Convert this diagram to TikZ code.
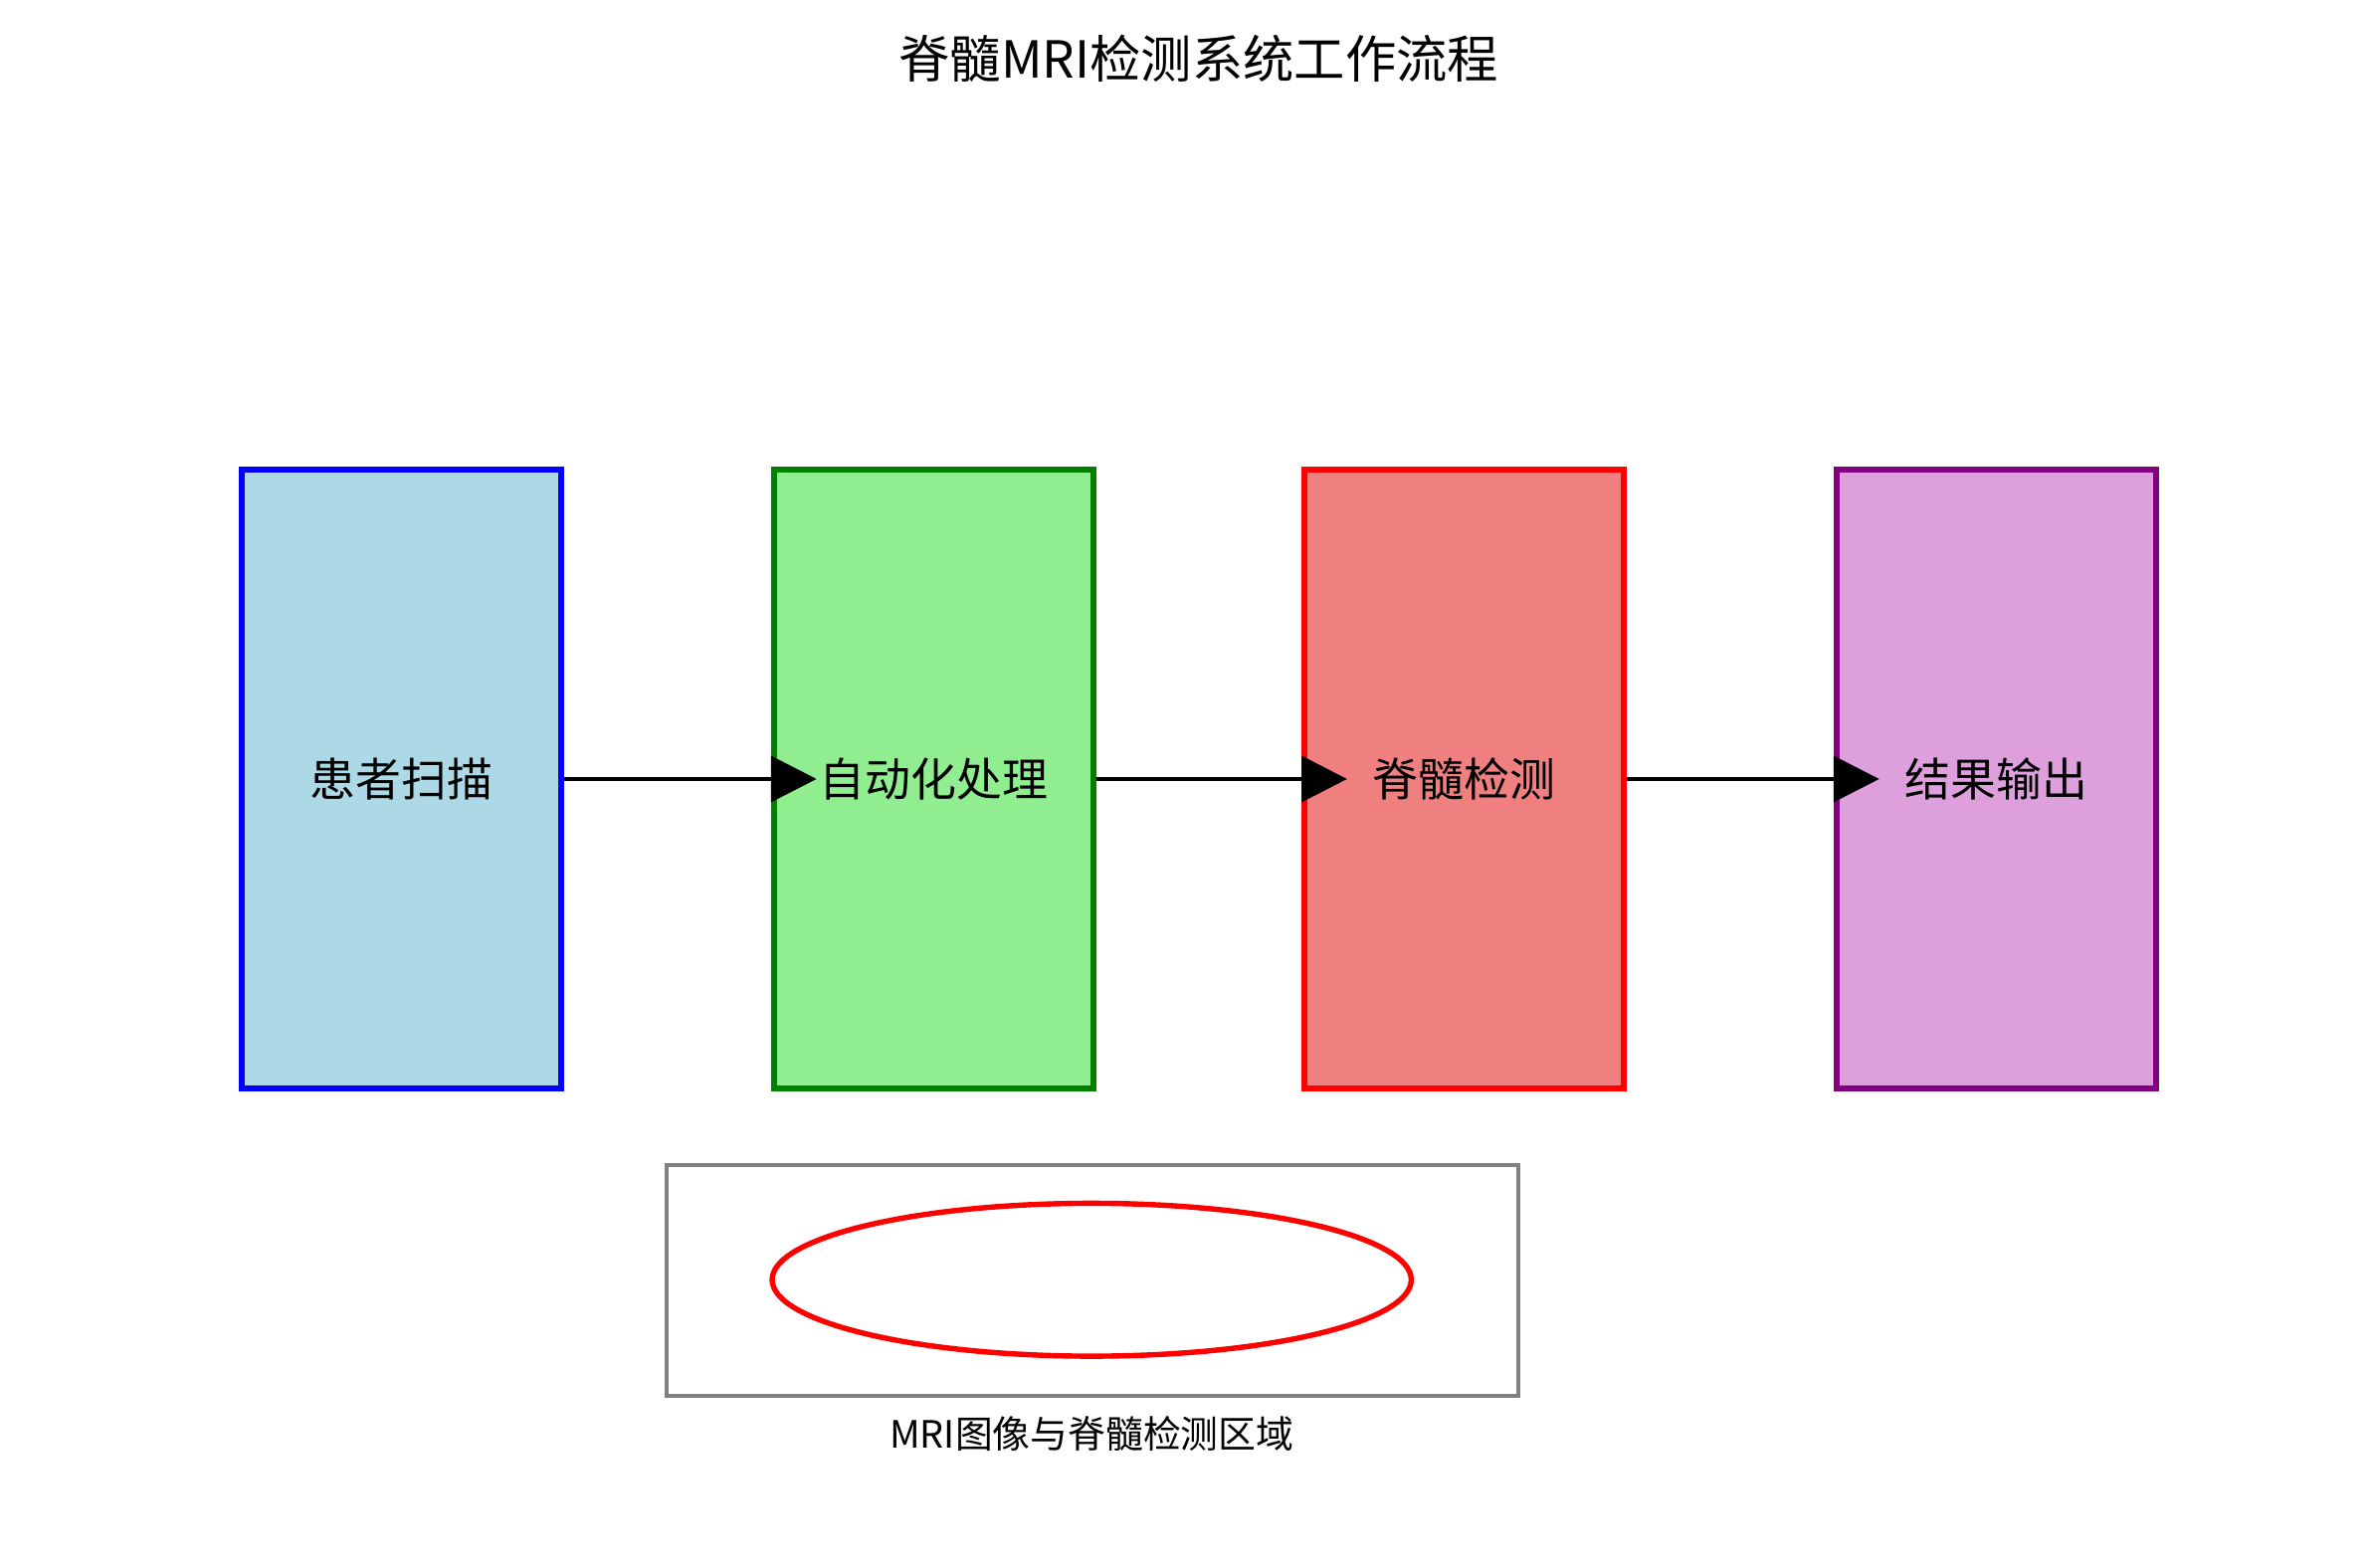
\documentclass[tikz,border=0pt]{standalone}
\usepackage{fontspec}
\setmainfont{Noto Sans CJK SC}
\usetikzlibrary{arrows.meta}
\definecolor{lblue}{RGB}{173,216,230}
\definecolor{lgreen}{RGB}{144,238,144}
\definecolor{lcoral}{RGB}{240,128,128}
\definecolor{lplum}{RGB}{221,160,221}
\definecolor{dgreen}{RGB}{0,128,0}
\definecolor{dpurple}{RGB}{128,0,128}
\begin{document}
\begin{tikzpicture}[x=0.02cm,y=-0.02cm,
  stage/.style={minimum width=209*0.02cm,minimum height=405*0.02cm,line width=2.2pt,inner sep=0pt,font=\fontsize{17}{20}\selectfont},
  flow/.style={line width=1.5pt,-{Triangle[length=17pt,width=17pt]}}]
\useasboundingbox (0,0) rectangle (1552,1025);
\node (title) at (784,38) {\fontsize{19}{22}\selectfont 脊髓MRI检测系统工作流程};
\node[stage,draw=blue,fill=lblue] (s1) at (262.5,509.5) {患者扫描};
\node[stage,draw=dgreen,fill=lgreen] (s2) at (610.5,509.5) {自动化处理};
\node[stage,draw=red,fill=lcoral] (s3) at (957.5,509.5) {脊髓检测};
\node[stage,draw=dpurple,fill=lplum] (s4) at (1305.5,509.5) {结果输出};
\draw[flow] (s1.east) -- ([xshift=30*0.02cm]s2.west);
\draw[flow] (s2.east) -- ([xshift=30*0.02cm]s3.west);
\draw[flow] (s3.east) -- ([xshift=30*0.02cm]s4.west);
\node[draw=gray,line width=1.2pt,minimum width=557*0.02cm,minimum height=151*0.02cm,inner sep=0pt] (img) at (714.5,837.5) {};
\draw[red,line width=2pt] (714,837) ellipse [x radius=209,y radius=50];
\node (cap) at (714,938) {\fontsize{14}{17}\selectfont MRI图像与脊髓检测区域};
\end{tikzpicture}
\end{document}
